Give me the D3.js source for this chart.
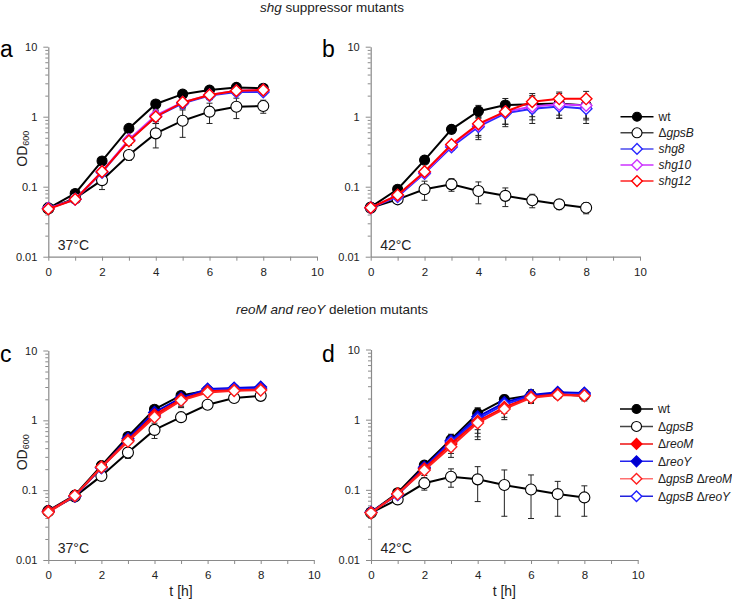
<!DOCTYPE html>
<html><head><meta charset="utf-8">
<script src="https://cdn.jsdelivr.net/npm/d3@7"></script>
<style>
body{margin:0;background:#fff;}
text{font-family:"Liberation Sans",Arial,sans-serif;}
</style></head>
<body>
<svg id="chart" width="732" height="600"></svg>
<script>
// ---------- data ----------
const times = [0,1,2,3,4,5,6,7,8];
const xTickValues = [0,1,2,3,4,5,6,7,8,9,10];
const yTickValues = [0.01,0.1,1,10];
const yTickLabels = ["0.01","0.1","1","10"];

// panel a (37°C, shg suppressors)
const a_wt      = [0.049,0.080,0.233,0.68,1.52,2.1,2.4,2.62,2.55];
const a_wt_sd   = [0.002,0.005,0.01,0.05,0.1,0.1,0.1,0.1,0.1];
const a_gpsB    = [0.049,0.068,0.124,0.283,0.578,0.877,1.18,1.39,1.42];
const a_gpsB_sd = [0.002,0.008,0.033,0.045,0.22,0.37,0.38,0.45,0.3];
const a_shg8    = [0.049,0.066,0.16,0.46,1.0,1.55,2.0,2.25,2.25];
const a_shg10   = [0.049,0.066,0.165,0.47,1.05,1.6,2.05,2.35,2.4];
const a_shg12   = [0.048,0.066,0.164,0.449,1.0,1.6,2.04,2.35,2.4];
const a_shg_sd  = [0.002,0.005,0.015,0.06,0.2,0.25,0.25,0.2,0.2];

// panel b (42°C, shg suppressors)
const b_wt      = [0.051,0.092,0.24,0.66,1.2,1.47,1.5,1.55,1.45];
const b_wt_sd   = [0.002,0.006,0.02,0.08,0.25,0.35,0.5,0.6,0.55];
const b_gpsB    = [0.05,0.066,0.092,0.108,0.087,0.074,0.064,0.056,0.05];
const b_gpsB_sd = [0.002,0.005,0.028,0.022,0.03,0.022,0.014,0.009,0.009];
const b_shg8    = [0.05,0.072,0.155,0.37,0.72,1.12,1.3,1.4,1.3];
const b_shg10   = [0.05,0.075,0.16,0.39,0.76,1.18,1.4,1.5,1.45];
const b_shg12   = [0.05,0.076,0.164,0.40,0.79,1.18,1.64,1.8,1.8];
const b_shg_sd  = [0.002,0.005,0.015,0.04,0.25,0.4,0.5,0.45,0.5];

// panel c (37°C, reoM/reoY deletions)
const c_wt        = [0.051,0.085,0.225,0.586,1.44,2.27,2.67,2.8,2.8];
const c_wt_sd     = [0.002,0.004,0.01,0.03,0.08,0.1,0.1,0.1,0.1];
const c_gpsB      = [0.05,0.081,0.16,0.345,0.73,1.11,1.67,2.09,2.24];
const c_gpsB_sd   = [0.002,0.004,0.01,0.06,0.18,0.08,0.15,0.1,0.1];
const c_reoM      = [0.05,0.083,0.215,0.52,1.2,2.0,2.6,2.7,2.75];
const c_reoY      = [0.05,0.082,0.21,0.55,1.3,2.1,2.8,2.9,3.0];
const c_gpsBreoM  = [0.048,0.083,0.213,0.497,1.11,1.92,2.5,2.65,2.7];
const c_gpsBreoY  = [0.049,0.082,0.21,0.52,1.15,1.95,2.7,2.8,2.85];
const c_sd        = [0.002,0.004,0.01,0.04,0.1,0.4,0.15,0.1,0.1];

// panel d (42°C, reoM/reoY deletions)
const d_wt        = [0.048,0.091,0.225,0.52,1.22,1.94,2.23,2.3,2.2];
const d_wt_sd     = [0.002,0.008,0.02,0.05,0.22,0.3,0.45,0.2,0.35];
const d_gpsB      = [0.047,0.073,0.124,0.154,0.141,0.117,0.101,0.087,0.078];
const d_gpsB_sd   = [0.002,0.008,0.025,0.045,0.073,0.075,0.062,0.045,0.036];
const d_reoM      = [0.047,0.088,0.2,0.45,0.95,1.5,2.1,2.3,2.2];
const d_reoY      = [0.048,0.086,0.21,0.5,1.1,1.75,2.25,2.45,2.4];
const d_gpsBreoM  = [0.047,0.087,0.19,0.41,0.9,1.42,2.05,2.25,2.2];
const d_gpsBreoY  = [0.048,0.085,0.2,0.48,1.02,1.65,2.15,2.3,2.3];
const d_sd        = [0.002,0.008,0.03,0.12,0.38,0.42,0.35,0.2,0.25];

// series labels: segments [text, italic]
const L_wt = [["wt",false]];
const L_gpsB = [["Δ",false],["gpsB",true]];
const L_shg8 = [["shg8",true]];
const L_shg10 = [["shg10",true]];
const L_shg12 = [["shg12",true]];
const L_reoM = [["Δ",false],["reoM",true]];
const L_reoY = [["Δ",false],["reoY",true]];
const L_gpsBreoM = [["Δ",false],["gpsB",true],[" Δ",false],["reoM",true]];
const L_gpsBreoY = [["Δ",false],["gpsB",true],[" Δ",false],["reoY",true]];

// styles
const ST = {
  wt:       {color:"#000", shape:"circle", fill:"#000", legColor:"#000"},
  gpsB:     {color:"#000", shape:"circle", fill:"#fff", legColor:"#444"},
  shg8:     {color:"#2a2aff", shape:"diamond", fill:"#fff", legColor:"#4a4aee"},
  shg10:    {color:"#cc33ff", shape:"diamond", fill:"#fff", legColor:"#cc33ff"},
  shg12:    {color:"#ff0000", shape:"diamond", fill:"#fff", legColor:"#ff2222"},
  reoM:     {color:"#ff0000", shape:"diamond", fill:"#ff0000", legColor:"#ee1111"},
  reoY:     {color:"#0000dd", shape:"diamond", fill:"#0000cc", legColor:"#2222ee"},
  gpsBreoM: {color:"#ff2020", shape:"diamond", fill:"#fff", legColor:"#ff7070"},
  gpsBreoY: {color:"#2020ff", shape:"diamond", fill:"#fff", legColor:"#2222dd"}
};

const panels = [
  {letter:"a", temp:"37°C", x0:48.3, x1:317, yT:46.7, yB:256.7, letterX:0, letterY:57, ylabel:true,
   series:[["wt",a_wt,a_wt_sd],["gpsB",a_gpsB,a_gpsB_sd],["shg8",a_shg8,a_shg_sd],["shg10",a_shg10,a_shg_sd],["shg12",a_shg12,a_shg_sd]]},
  {letter:"b", temp:"42°C", x0:370.7, x1:640, yT:46.7, yB:256.7, letterX:322, letterY:57,
   series:[["wt",b_wt,b_wt_sd],["gpsB",b_gpsB,b_gpsB_sd],["shg8",b_shg8,b_shg_sd],["shg10",b_shg10,b_shg_sd],["shg12",b_shg12,b_shg_sd]],
   legend:{x:620.5, y:116.7, dy:16.1, items:[["wt",L_wt],["gpsB",L_gpsB],["shg8",L_shg8],["shg10",L_shg10],["shg12",L_shg12]]}},
  {letter:"c", temp:"37°C", x0:48.3, x1:313.8, yT:350.5, yB:560, letterX:0, letterY:362, ylabel:true, xlabel:true,
   series:[["wt",c_wt,c_wt_sd],["gpsB",c_gpsB,c_gpsB_sd],["reoY",c_reoY,c_sd],["gpsBreoY",c_gpsBreoY,c_sd],["reoM",c_reoM,c_sd],["gpsBreoM",c_gpsBreoM,c_sd]]},
  {letter:"d", temp:"42°C", x0:371, x1:637.7, yT:349.5, yB:560, letterX:322, letterY:362, xlabel:true,
   series:[["wt",d_wt,d_wt_sd],["gpsB",d_gpsB,d_gpsB_sd],["reoY",d_reoY,d_sd],["gpsBreoY",d_gpsBreoY,d_sd],["reoM",d_reoM,d_sd],["gpsBreoM",d_gpsBreoM,d_sd]],
   legend:{x:620, y:409, dy:17.45, items:[["wt",L_wt],["gpsB",L_gpsB],["reoM",L_reoM],["reoY",L_reoY],["gpsBreoM",L_gpsBreoM],["gpsBreoY",L_gpsBreoY]]}}
];

const svg = d3.select("#chart");
const AX = "#8a8a8a";
const TXT = "#222";

function addLabel(sel, segs){
  segs.forEach(([t,it]) => sel.append("tspan").text(t).attr("font-style", it ? "italic" : "normal"));
}

function marker(g, shape, cx, cy, st, size){
  if(shape === "circle"){
    g.append("circle").attr("cx",cx).attr("cy",cy).attr("r", st.fill==="#000" ? size : size+0.5)
      .attr("fill", st.fill).attr("stroke", "#000").attr("stroke-width", 1.1);
  } else {
    const s = size + 0.8;
    g.append("path").attr("d", `M${cx},${cy-s}L${cx+s},${cy}L${cx},${cy+s}L${cx-s},${cy}Z`)
      .attr("fill", st.fill).attr("stroke", st.color).attr("stroke-width", 1.4);
  }
}

// titles
const t1 = svg.append("text").attr("x",332).attr("y",11.5).attr("text-anchor","middle").attr("font-size",13.5).attr("fill",TXT);
addLabel(t1, [["shg",true],[" suppressor mutants",false]]);
const t2 = svg.append("text").attr("x",332).attr("y",314).attr("text-anchor","middle").attr("font-size",13.5).attr("fill",TXT);
addLabel(t2, [["reoM and reoY",true],[" deletion mutants",false]]);

panels.forEach(p => {
  const x = d3.scaleLinear().domain([0,10]).range([p.x0,p.x1]);
  const y = d3.scaleLog().domain([0.01,10]).range([p.yB,p.yT]);
  const g = svg.append("g");

  // minor y ticks
  const minor = [];
  [0.01,0.1,1].forEach(d => { for(let k=2;k<=9;k++) minor.push(d*k); });
  g.append("g").attr("transform",`translate(${p.x0},0)`)
    .call(d3.axisLeft(y).tickValues(minor).tickSize(3).tickFormat(""))
    .call(s => { s.select(".domain").remove(); s.selectAll("line").attr("stroke",AX); });

  // major y axis
  g.append("g").attr("transform",`translate(${p.x0},0)`)
    .call(d3.axisLeft(y).tickValues(yTickValues).tickSize(5).tickSizeOuter(0).tickPadding(6)
      .tickFormat((d,i) => yTickLabels[i]))
    .call(s => {
      s.select(".domain").attr("stroke",AX).attr("stroke-width",1.2);
      s.selectAll("line").attr("stroke",AX);
      s.selectAll("text").attr("font-size",11).attr("fill",TXT).attr("font-family",null);
    });

  // x axis
  g.append("g").attr("transform",`translate(0,${p.yB})`)
    .call(d3.axisBottom(x).tickValues(xTickValues).tickSize(4).tickSizeOuter(0).tickPadding(7)
      .tickFormat(d => d % 2 === 0 ? d : ""))
    .call(s => {
      s.select(".domain").attr("stroke",AX).attr("stroke-width",1.2);
      s.selectAll("line").attr("stroke",AX);
      s.selectAll("text").attr("font-size",11.5).attr("fill",TXT).attr("font-family",null);
    });

  // letter
  svg.append("text").attr("x",p.letterX).attr("y",p.letterY).attr("font-size",23).attr("fill","#000").text(p.letter);
  // temperature
  svg.append("text").attr("x",p.x0+9.5).attr("y",p.yB-7).attr("font-size",14).attr("fill",TXT).text(p.temp);

  if(p.ylabel){
    const cy = (p.yT+p.yB)/2 - 3;
    const yl = svg.append("text").attr("transform",`translate(27,${cy}) rotate(-90)`)
      .attr("text-anchor","middle").attr("font-size",14).attr("fill",TXT);
    yl.append("tspan").text("OD");
    yl.append("tspan").text("600").attr("font-size",9).attr("dy",2);
  }
  if(p.xlabel){
    svg.append("text").attr("x",(p.x0+p.x1)/2).attr("y",596).attr("text-anchor","middle")
      .attr("font-size",14).attr("fill",TXT).text("t [h]");
  }

  // error bars
  const eg = g.append("g");
  p.series.forEach(([key, vals, sd]) => {
    vals.forEach((v,i) => {
      const hi = v + sd[i], lo = Math.max(v - sd[i], 0.011);
      const cx = x(times[i]);
      eg.append("line").attr("x1",cx).attr("x2",cx).attr("y1",y(hi)).attr("y2",y(lo)).attr("stroke","#222").attr("stroke-width",1);
      [hi,lo].forEach(e => eg.append("line").attr("x1",cx-3).attr("x2",cx+3).attr("y1",y(e)).attr("y2",y(e)).attr("stroke","#222").attr("stroke-width",1));
    });
  });

  // lines and markers
  const line = d3.line().x((d,i)=>x(times[i])).y(d=>y(d));
  p.series.forEach(([key, vals]) => {
    const st = ST[key];
    const sg = g.append("g");
    sg.append("path").datum(vals).attr("d", line).attr("fill","none").attr("stroke", st.color).attr("stroke-width",2);
    vals.forEach((v,i) => marker(sg, st.shape, x(times[i]), y(v), st, 5));
  });

  // legend
  if(p.legend){
    const lg = svg.append("g");
    p.legend.items.forEach(([key, segs], i) => {
      const st = ST[key];
      const ly = p.legend.y + i*p.legend.dy;
      lg.append("line").attr("x1",p.legend.x).attr("x2",p.legend.x+33).attr("y1",ly).attr("y2",ly)
        .attr("stroke", st.legColor).attr("stroke-width",1.5);
      marker(lg, st.shape, p.legend.x+16.5, ly, st, 4.5);
      const tx = lg.append("text").attr("x",p.legend.x+38).attr("y",ly+4.3).attr("font-size",12).attr("fill",TXT);
      addLabel(tx, segs);
    });
  }
});
</script>
</body></html>
